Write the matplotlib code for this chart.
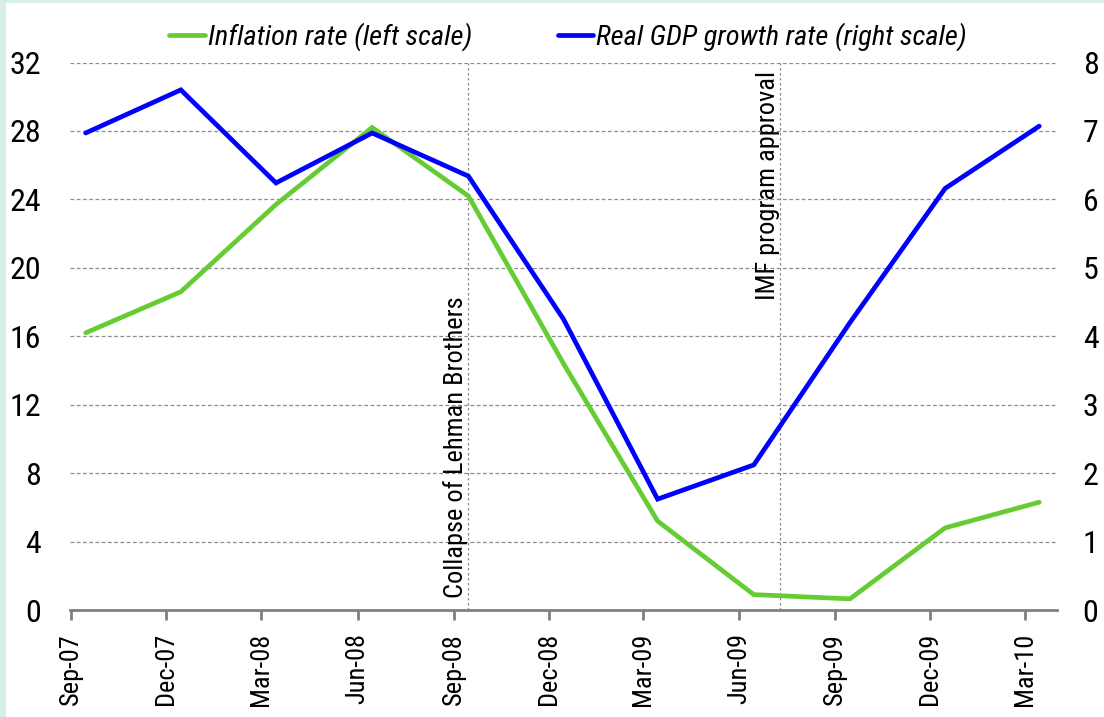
import datetime as dt
import matplotlib
matplotlib.use("Agg")
import matplotlib.pyplot as plt
import matplotlib.dates as mdates
import matplotlib.font_manager as fm
from matplotlib.patches import Rectangle

# ---- data ----
periods = ["Sep-07", "Dec-07", "Mar-08", "Jun-08", "Sep-08", "Dec-08",
           "Mar-09", "Jun-09", "Sep-09", "Dec-09", "Mar-10"]
inflation = [16.2, 18.6, 23.7, 28.2, 24.2, 14.4, 5.2, 0.9, 0.65, 4.8, 6.3]
gdp_growth = [6.97, 7.6, 6.24, 6.97, 6.34, 4.25, 1.62, 2.12, 4.2, 6.16, 7.07]
left_ticks = [0, 4, 8, 12, 16, 20, 24, 28, 32]
right_ticks = [0, 1, 2, 3, 4, 5, 6, 7, 8]
events = [("Collapse of Lehman Brothers", dt.date(2008, 9, 15)),
          ("IMF program approval", dt.date(2009, 7, 10))]
series_labels = ["Inflation rate (left scale)", "Real GDP growth rate (right scale)"]

# ---- fonts ----
names = {f.name for f in fm.fontManager.ttflist}
fam = "DejaVu Sans"
for cand in ["Roboto Condensed", "Liberation Sans Narrow", "Open Sans Condensed", "Liberation Sans"]:
    if cand in names:
        fam = cand
        break
plt.rcParams["font.family"] = [fam, "DejaVu Sans"]

month_num = {m: i for i, m in enumerate(
    ["Jan", "Feb", "Mar", "Apr", "May", "Jun", "Jul", "Aug", "Sep", "Oct", "Nov", "Dec"], 1)}
def to_date(lbl, day):
    m, y = lbl.split("-")
    return dt.date(2000 + int(y), month_num[m], day)

data_dates = [to_date(p, 15) for p in periods]
tick_dates = [to_date(p, 1) for p in periods]

GREEN = "#66CC33"
BLUE = "#0000FF"
GRID = "#8c8c8c"

W, H = 1104, 717
fig = plt.figure(figsize=(W / 100, H / 100), dpi=100)
fig.patch.set_facecolor("#D8EFE5")
fig.patches.append(Rectangle((6 / W, 0), 1, 1 - 3 / H, transform=fig.transFigure,
                             facecolor="white", edgecolor="none", zorder=-10))

x0, x1 = 70, 1057
ytop, ybot = 62.5, 610
ax = fig.add_axes([x0 / W, 1 - ybot / H, (x1 - x0) / W, (ybot - ytop) / H])
ax.set_facecolor("none")
ax2 = ax.twinx()

ax.set_xlim(dt.date(2007, 8, 31), dt.date(2010, 4, 1))
ax.set_ylim(0, 32)
ax2.set_ylim(0, 8)
ax.set_yticks(left_ticks)
ax2.set_yticks(right_ticks)

for a in (ax, ax2):
    for s in ("top", "left", "right", "bottom"):
        a.spines[s].set_visible(False)
ax.spines["bottom"].set_visible(True)
ax.spines["bottom"].set_color("#808080")
ax.spines["bottom"].set_linewidth(2)

ax.yaxis.grid(True, color=GRID, linestyle=(0, (3, 2)), linewidth=0.9)
ax.set_axisbelow(True)

ax.tick_params(axis="y", length=0, labelsize=23, pad=21)
ax2.tick_params(axis="y", length=0, labelsize=23, pad=18.5)
ax.set_xticks(tick_dates)
ax.xaxis.set_major_formatter(mdates.DateFormatter("%b-%y"))
ax.tick_params(axis="x", length=7.5, width=2, color="#808080", labelsize=19,
               labelrotation=90, pad=9)

for label, d in events:
    ax.axvline(d, color=GRID, linestyle=(0, (2, 2)), linewidth=0.9, zorder=1)

ax.text(events[0][1], 0.7, events[0][0], rotation=90, ha="right", va="bottom",
        fontsize=19, zorder=3)
ax.text(events[1][1], 18.1, events[1][0], rotation=90, ha="right", va="bottom",
        fontsize=19, zorder=3)

l1, = ax.plot(data_dates, inflation, color=GREEN, linewidth=3.4,
              solid_joinstyle="miter", solid_capstyle="round", zorder=4)
l2, = ax2.plot(data_dates, gdp_growth, color=BLUE, linewidth=3.4,
               solid_joinstyle="miter", solid_capstyle="round", zorder=4)

fig.legend([l1, l2], series_labels, loc="center", bbox_to_anchor=(568 / W, 1 - 37 / H),
           ncol=2, frameon=False, prop={"size": 20.5, "style": "italic"},
           handlelength=1.25, handletextpad=0.1, columnspacing=3.0)

fig.savefig("out.png", dpi=100, facecolor=fig.get_facecolor())
